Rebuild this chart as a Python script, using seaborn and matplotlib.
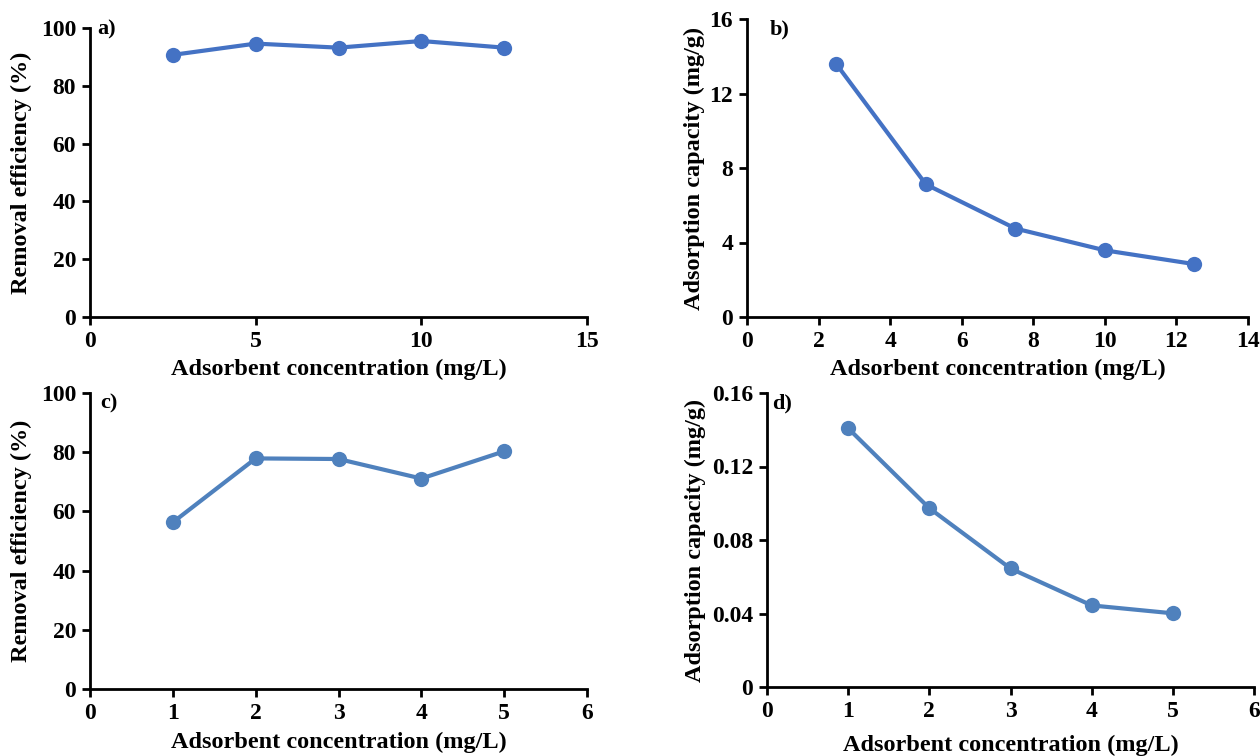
import matplotlib
matplotlib.use("Agg")
import matplotlib.pyplot as plt
import seaborn as sns
import pandas as pd

sns.set_theme(style="white")
plt.rcParams['font.family'] = ['Liberation Serif', 'DejaVu Serif']
plt.rcParams['font.weight'] = 'bold'

# Data
x_a = [2.5, 5, 7.5, 10, 12.5]
y_a = [90.7, 94.6, 93.2, 95.5, 93.2]
x_b = [2.5, 5, 7.5, 10, 12.5]
y_b = [13.57, 7.12, 4.75, 3.58, 2.84]
x_c = [1, 2, 3, 4, 5]
y_c = [56.3, 77.9, 77.7, 71.1, 80.3]
x_d = [1, 2, 3, 4, 5]
y_d = [0.1408, 0.0973, 0.0645, 0.0444, 0.0401]

xlabel = "Adsorbent concentration (mg/L)"
ylab_eff = "Removal efficiency (%)"
ylab_cap = "Adsorption capacity (mg/g)"

fig = plt.figure(figsize=(12.6, 7.56), dpi=100)

def fpos(l, r, t, b):
    W, H = 1260, 756
    return [l / W, 1 - b / H, (r - l) / W, (b - t) / H]

panels = [
    dict(pos=fpos(90, 587, 28, 317), x=x_a, y=y_a, color="#4472C4", xlim=(0, 15), xt=[0, 5, 10, 15],
         ylim=(0, 100), yt=[0, 20, 40, 60, 80, 100], ylabel=ylab_eff, tag="a)", tagx=0.015, tagy=1.03, xlp=5, ylp=6),
    dict(pos=fpos(747, 1248, 19, 317), x=x_b, y=y_b, color="#4472C4", xlim=(0, 14), xt=list(range(0, 15, 2)),
         ylim=(0, 16), yt=[0, 4, 8, 12, 16], ylabel=ylab_cap, tag="b)", tagx=0.045, tagy=1.0, xlp=5, ylp=3),
    dict(pos=fpos(90, 587, 393, 689), x=x_c, y=y_c, color="#4F81BD", xlim=(0, 6), xt=list(range(0, 7)),
         ylim=(0, 100), yt=[0, 20, 40, 60, 80, 100], ylabel=ylab_eff, tag="c)", tagx=0.02, tagy=1.0, xlp=6, ylp=6),
    dict(pos=fpos(767, 1254, 393, 687), x=x_d, y=y_d, color="#4F81BD", xlim=(0, 6), xt=list(range(0, 7)),
         ylim=(0, 0.16), yt=[0, 0.04, 0.08, 0.12, 0.16], ylabel=ylab_cap, tag="d)", tagx=0.01, tagy=1.0, xlp=9, ylp=4),
]

for p in panels:
    ax = fig.add_axes(p["pos"])
    df = pd.DataFrame({"x": p["x"], "y": p["y"]})
    sns.lineplot(data=df, x="x", y="y", ax=ax, color=p["color"], linewidth=3,
                 marker="o", markersize=11, markeredgewidth=0, markerfacecolor=p["color"])
    ax.set_xlim(*p["xlim"])
    ax.set_ylim(*p["ylim"])
    ax.set_xticks(p["xt"])
    ax.set_yticks(p["yt"])
    ax.set_yticklabels(["{:g}".format(v) for v in p["yt"]])
    for s in ["top", "right"]:
        ax.spines[s].set_visible(False)
    for s in ["left", "bottom"]:
        ax.spines[s].set_color("black")
        ax.spines[s].set_linewidth(2)
    ax.tick_params(axis="both", which="major", direction="out", length=6, width=2,
                   color="black", labelsize=17, pad=4, bottom=True, left=True)
    for lab in ax.get_xticklabels() + ax.get_yticklabels():
        lab.set_fontweight("bold")
        lab.set_color("black")
    ax.set_xlabel(xlabel, fontsize=17.5, fontweight="bold", color="black", labelpad=p["xlp"])
    ax.set_ylabel(p["ylabel"], fontsize=17.5, fontweight="bold", color="black", labelpad=p["ylp"])
    ax.text(p["tagx"], p["tagy"], p["tag"], transform=ax.transAxes, fontsize=16, fontweight="bold",
            va="top", ha="left", color="black")
    ax.set_facecolor("white")

fig.savefig("out.png", dpi=100, facecolor="white")
